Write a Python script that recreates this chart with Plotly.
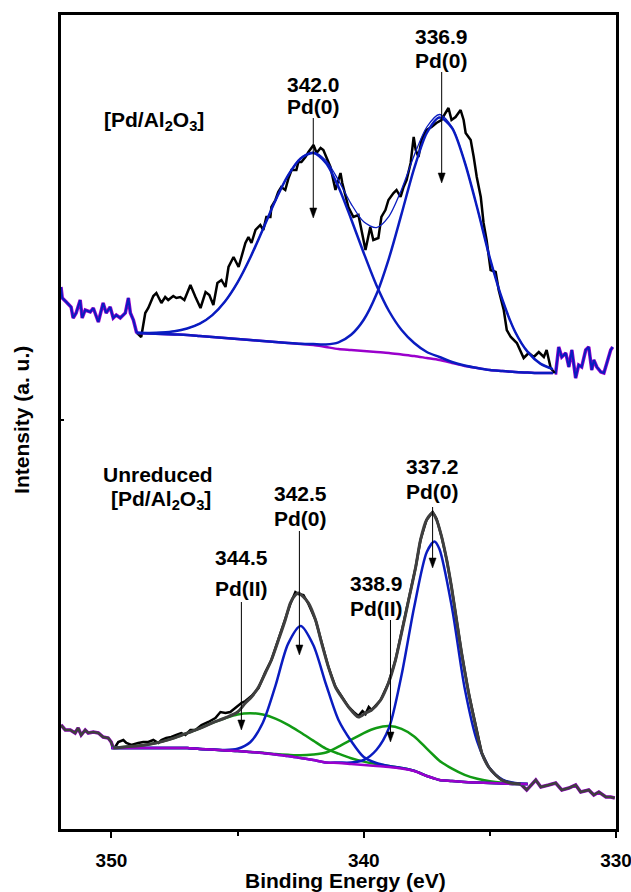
import plotly.graph_objects as go

# ---------------- data (binding energy in eV, intensity in a.u.) ----------------
# upper spectrum [Pd/Al2O3]
top_left_E = [352.0, 351.95, 351.79, 351.60, 351.52, 351.40, 351.24, 351.16, 351.04, 350.84,
              350.72, 350.52, 350.33, 350.21, 350.05, 349.93, 349.81, 349.65, 349.45, 349.33,
              349.25, 349.13, 349.01, 348.98]
top_left_I = [54.3, 53.2, 52.8, 52.3, 51.2, 51.7, 53.0, 51.2, 52.0, 51.8,
              52.2, 50.8, 52.7, 51.7, 52.3, 51.2, 51.5, 51.2, 51.7, 53.2,
              51.7, 51.0, 49.8, 49.7]

top_raw_E = [348.98, 348.82, 348.66, 348.54, 348.34, 348.22, 348.02, 347.87, 347.75, 347.55,
             347.43, 347.27, 347.11, 346.87, 346.67, 346.47, 346.27, 346.12, 345.96, 345.80,
             345.64, 345.48, 345.36, 345.16, 344.96, 344.85, 344.69, 344.57, 344.45, 344.29,
             344.10, 343.98, 343.86, 343.70, 343.66, 343.50, 343.39, 343.27, 343.11, 342.98,
             342.86, 342.67, 342.59, 342.47, 342.31, 342.19, 341.99, 341.87, 341.71, 341.60,
             341.48, 341.32, 341.12, 340.92, 340.85, 340.61, 340.41, 340.21, 340.09, 339.93,
             339.74, 339.62, 339.42, 339.30, 339.14, 339.02, 338.82, 338.70, 338.54, 338.42,
             338.30, 338.14, 338.02, 337.94, 337.83, 337.71, 337.51, 337.31, 337.12, 336.92,
             336.76, 336.64, 336.52, 336.36, 336.16, 336.04, 335.96, 335.76, 335.64, 335.52,
             335.36, 335.25, 335.13, 334.97, 334.77, 334.65, 334.45, 334.33, 334.17, 334.05,
             333.93, 333.66, 333.46, 333.26, 333.06, 332.86, 332.75, 332.59, 332.43]
top_raw_I = [49.7, 49.3, 51.7, 52.2, 53.4, 53.7, 52.7, 53.3, 53.0, 53.4,
             53.2, 53.3, 53.0, 54.5, 53.3, 52.2, 53.8, 53.5, 52.5, 54.7,
             55.0, 54.3, 56.3, 57.3, 56.3, 57.3, 58.7, 59.3, 58.7, 60.0,
             60.5, 60.0, 61.3, 61.3, 62.3, 63.0, 63.8, 64.3, 64.0, 65.2,
             66.0, 66.0, 66.8, 66.8, 67.3, 67.8, 68.5, 67.7, 68.2, 68.0,
             67.3, 66.3, 64.0, 65.7, 64.7, 62.3, 61.3, 61.5, 60.0, 58.0,
             60.3, 59.0, 59.2, 61.3, 62.0, 63.0, 63.7, 64.0, 63.3, 64.3,
             65.0, 66.7, 69.3, 68.0, 67.3, 69.0, 70.0, 70.3, 70.7, 71.0,
             71.7, 72.2, 71.0, 71.3, 72.0, 71.0, 69.7, 69.0, 67.3, 65.3,
             63.3, 60.7, 59.0, 56.0, 55.8, 54.0, 52.0, 50.0, 49.3, 49.0,
             48.7, 47.2, 47.7, 47.3, 47.8, 47.3, 48.0, 46.2, 45.7]

top_right_E = [332.43, 332.39, 332.27, 332.15, 331.99, 331.87, 331.75, 331.60, 331.48, 331.36,
               331.20, 331.08, 330.96, 330.88, 330.76, 330.60, 330.48, 330.37, 330.21, 330.13]
top_right_I = [45.7, 45.7, 48.3, 47.3, 47.7, 46.3, 48.0, 45.2, 46.5, 46.3,
               48.0, 48.3, 46.0, 47.0, 46.3, 45.8, 45.7, 46.7, 48.0, 48.3]

top_fit_E = [349.0, 348.5, 348.0, 347.5, 347.0, 346.5, 346.0, 345.5, 345.0, 344.5,
             344.0, 343.5, 343.0, 342.5, 342.0, 341.5, 341.0, 340.5, 340.0, 339.5,
             339.0, 338.5, 338.0, 337.5, 337.0, 336.5, 336.0, 335.5, 335.0, 334.5,
             334.0, 333.5, 333.0, 332.5]
top_bg_I = [49.7, 49.65, 49.6, 49.55, 49.5, 49.4, 49.3, 49.2, 49.1, 49.0,
            48.9, 48.8, 48.7, 48.6, 48.5, 48.3, 48.1, 48.0, 47.9, 47.8,
            47.7, 47.55, 47.4, 47.2, 47.0, 46.7, 46.4, 46.2, 46.0, 45.9,
            45.8, 45.75, 45.7, 45.7]
top_pd0_342_I = [49.72, 49.71, 49.75, 49.87, 50.15, 50.63, 51.49, 52.85, 54.76, 57.22,
                 60.06, 62.95, 65.46, 67.16, 67.7, 66.7, 64.3, 61.1, 57.7, 54.5,
                 51.9, 50.0, 48.7, 47.8, 47.3, 46.8, 46.45, 46.2, 46.0, 45.9,
                 45.8, 45.75, 45.7, 45.7]
top_pd0_337_I = [49.7, 49.65, 49.6, 49.55, 49.5, 49.4, 49.3, 49.2, 49.1, 49.0,
                 48.9, 48.8, 48.71, 48.63, 48.59, 48.56, 48.77, 49.52, 51.02, 53.54,
                 57.17, 61.61, 66.16, 69.7, 71.25, 70.2, 66.8, 62.2, 57.2, 53.0,
                 49.83, 47.81, 46.64, 46.09]
top_env_I = [49.72, 49.71, 49.75, 49.87, 50.15, 50.63, 51.49, 52.85, 54.76, 57.22,
             60.06, 62.95, 65.47, 67.19, 67.79, 66.96, 64.97, 62.62, 60.82, 60.24,
             61.37, 64.06, 67.46, 70.3, 71.55, 70.3, 66.85, 62.2, 57.2, 53.0,
             49.83, 47.81, 46.64, 46.09]

# lower spectrum: unreduced [Pd/Al2O3]
bot_left_E = [352.0, 351.83, 351.63, 351.44, 351.32, 351.20, 351.04, 350.92, 350.72, 350.52,
              350.33, 350.13, 350.01, 349.93]
bot_left_I = [10.5, 10.0, 10.0, 9.7, 10.2, 9.5, 10.0, 9.7, 9.8, 9.7,
              9.3, 9.2, 8.8, 8.2]

bot_raw_E = [349.93, 349.85, 349.73, 349.53, 349.41, 349.21, 348.94, 348.74, 348.54, 348.34,
             348.14, 348.02, 347.83, 347.63, 347.43, 347.23, 347.07, 346.87, 346.67, 346.43,
             346.16, 345.88, 345.68, 345.48, 345.29, 345.09, 344.85, 344.69, 344.45, 344.17,
             343.90, 343.66, 343.38, 343.11, 342.91, 342.71, 342.59, 342.39, 342.19, 341.91,
             341.67, 341.40, 341.12, 340.85, 340.60, 340.40, 340.21, 340.05, 339.93, 339.80,
             339.69, 339.33, 339.02, 338.74, 338.50, 338.22, 337.94, 337.75, 337.51, 337.27,
             337.11, 336.91, 336.71, 336.52, 336.32, 336.12, 335.84, 335.56, 335.32, 335.05,
             334.77, 334.53, 334.18, 333.78]
bot_raw_I = [8.2, 8.3, 8.8, 9.0, 8.7, 8.5, 8.7, 8.8, 8.8, 9.0,
             8.7, 9.0, 9.2, 9.3, 9.5, 9.7, 9.5, 10.0, 10.0, 10.5,
             10.8, 11.2, 11.8, 11.7, 11.8, 12.2, 12.7, 12.9, 13.4, 14.2,
             15.8, 17.0, 19.1, 21.0, 22.6, 23.8, 23.6, 23.5, 22.6, 21.0,
             18.7, 16.3, 14.3, 13.2, 12.3, 11.8, 11.4, 11.9, 11.6, 12.3,
             12.0, 13.0, 14.7, 17.0, 19.7, 23.0, 26.3, 29.0, 31.0, 31.8,
             31.1, 29.3, 27.0, 24.3, 21.0, 17.7, 13.7, 10.3, 7.7, 6.3,
             5.5, 5.0, 4.7, 4.6]

bot_right_E = [333.78, 333.74, 333.54, 333.18, 332.98, 332.67, 332.39, 332.15, 331.87, 331.60,
               331.40, 331.08, 330.88, 330.68, 330.40, 330.21, 330.05]
bot_right_I = [4.6, 4.5, 4.0, 5.0, 4.3, 4.5, 4.7, 4.0, 4.2, 4.5,
               3.8, 4.0, 3.5, 3.8, 3.3, 3.3, 3.2]

bot_env_E = [349.93, 349.5, 349.0, 348.5, 348.0, 347.5, 347.0, 346.5, 346.0, 345.5,
             345.0, 344.69, 344.45, 344.17, 343.90, 343.66, 343.38, 343.11, 342.91, 342.71,
             342.59, 342.39, 342.19, 341.91, 341.67, 341.40, 341.12, 340.85, 340.60, 340.21,
             339.93, 339.69, 339.33, 339.02, 338.74, 338.50, 338.22, 337.94, 337.75, 337.51,
             337.27, 337.11, 336.91, 336.71, 336.52, 336.32, 336.12, 335.84, 335.56, 335.32,
             335.05, 334.77, 334.53, 334.18, 333.78]
bot_env_I = [8.2, 8.31, 8.41, 8.58, 8.84, 9.21, 9.69, 10.16, 10.72, 11.2,
             11.8, 12.7, 13.3, 14.3, 15.7, 17.0, 19.0, 21.0, 22.7, 23.5,
             23.7, 23.3, 22.7, 21.0, 18.7, 16.3, 14.3, 13.2, 12.3, 11.3,
             11.7, 12.0, 13.0, 14.7, 17.0, 19.7, 23.0, 26.3, 29.0, 31.0,
             31.7, 31.0, 29.3, 27.0, 24.3, 21.0, 17.7, 13.7, 10.3, 7.7,
             6.3, 5.5, 5.0, 4.7, 4.6]

bot_fit_E = [350.0, 349.5, 349.0, 348.5, 348.0, 347.5, 347.0, 346.5, 346.0, 345.5,
             345.0, 344.5, 344.0, 343.5, 343.0, 342.5, 342.0, 341.5, 341.0, 340.5,
             340.0, 339.5, 339.0, 338.5, 338.0, 337.5, 337.2, 337.0, 336.5, 336.0,
             335.5, 335.0, 334.5, 334.0, 333.5]
bot_bg_I = [8.2, 8.2, 8.2, 8.2, 8.2, 8.2, 8.2, 8.1, 8.05, 7.95,
            7.9, 7.8, 7.7, 7.55, 7.4, 7.2, 7.0, 6.75, 6.7, 6.6,
            6.5, 6.4, 6.3, 6.15, 5.9, 5.4, 5.15, 5.0, 4.9, 4.8,
            4.75, 4.7, 4.65, 4.6, 4.6]
bot_pd0_342_I = [8.2, 8.2, 8.2, 8.2, 8.2, 8.2, 8.2, 8.1, 8.05, 7.99,
                 8.12, 8.77, 10.73, 14.41, 18.61, 20.4, 18.5, 14.6, 11.0, 8.9,
                 7.3, 6.7, 6.4, 6.2, 5.92, 5.4, 5.15, 5.0, 4.9, 4.8,
                 4.75, 4.7, 4.65, 4.6, 4.6]
bot_pd0_337_I = [8.2, 8.2, 8.2, 8.2, 8.2, 8.2, 8.2, 8.1, 8.05, 7.95,
                 7.9, 7.8, 7.7, 7.55, 7.4, 7.2, 7.0, 6.75, 6.75, 6.75,
                 7.0, 8.0, 10.2, 15.5, 22.3, 27.8, 28.85, 28.1, 22.2, 14.2,
                 8.85, 6.15, 5.05, 4.7, 4.6]
bot_pd2_344_I = [8.25, 8.31, 8.41, 8.58, 8.84, 9.21, 9.69, 10.16, 10.72, 11.18,
                 11.56, 11.68, 11.55, 11.14, 10.52, 9.75, 8.94, 8.14, 7.63, 7.18,
                 6.84, 6.59, 6.4, 6.2, 5.92, 5.4, 5.15, 5.0, 4.9, 4.8,
                 4.75, 4.7, 4.65, 4.6, 4.6]
bot_pd2_339_I = [8.2, 8.2, 8.2, 8.2, 8.2, 8.2, 8.2, 8.1, 8.05, 7.95,
                 7.9, 7.8, 7.72, 7.6, 7.52, 7.47, 7.55, 7.75, 8.34, 9.01,
                 9.69, 10.2, 10.39, 10.11, 9.36, 8.13, 7.4, 6.93, 6.13, 5.51,
                 5.12, 4.87, 4.72, 4.63, 4.6]

x_ticks = [350, 340, 330]

# ---------------- styles ----------------
BLACK = "#000000"
BLUE = "#0a1cc0"
PURPLE = "#9a00cc"
GREEN = "#119a14"
GREY = "#3f3f3f"
FONT = "Liberation Sans"

fig = go.Figure()


def line(x, y, color, width, smooth=False):
    ln = dict(color=color, width=width)
    if smooth:
        ln.update(shape="spline", smoothing=0.8)
    fig.add_trace(go.Scatter(x=x, y=y, mode="lines", line=ln,
                             showlegend=False, hoverinfo="skip"))


# upper spectrum
line(top_left_E, top_left_I, PURPLE, 3.5)
line(top_left_E, top_left_I, BLUE, 2)
line(top_right_E, top_right_I, PURPLE, 3.5)
line(top_right_E, top_right_I, BLUE, 2)
line(top_raw_E, top_raw_I, BLACK, 2.5)
line(top_fit_E, top_bg_I, PURPLE, 2.5, True)
line(top_fit_E, top_pd0_342_I, BLUE, 2.5, True)
line(top_fit_E, top_pd0_337_I, BLUE, 2.5, True)
line(top_fit_E, top_env_I, BLUE, 1.3, True)

# lower spectrum
line(bot_left_E, bot_left_I, PURPLE, 3.5)
line(bot_left_E, bot_left_I, GREY, 2.5)
line(bot_right_E, bot_right_I, PURPLE, 3.5)
line(bot_right_E, bot_right_I, GREY, 2.5)
line(bot_raw_E, bot_raw_I, BLACK, 2.5)
line(bot_fit_E, bot_pd2_344_I, GREEN, 2.5, True)
line(bot_fit_E, bot_pd2_339_I, GREEN, 2.5, True)
line(bot_fit_E, bot_pd0_342_I, BLUE, 2.5, True)
line(bot_fit_E, bot_pd0_337_I, BLUE, 2.5, True)
line(bot_fit_E, bot_bg_I, PURPLE, 2.5, True)
line(bot_env_E, bot_env_I, GREY, 3, True)

annotations = []
shapes = []


def label(x, y, text, size=21):
    annotations.append(dict(x=x, y=y, xref="x", yref="y", text="<b>%s</b>" % text,
                             showarrow=False, xanchor="center", yanchor="middle",
                             font=dict(family=FONT, size=size, color="black")))


def arrow(x, y_tail, y_head):
    # shaft
    shapes.append(dict(type="line", xref="x", yref="y", x0=x, x1=x, y0=y_tail, y1=y_head + 0.8,
                       line=dict(color="black", width=1)))
    # filled arrow head (about 7 px wide, 10 px long)
    shapes.append(dict(type="path", xref="x", yref="y",
                       path="M %.3f,%.2f L %.3f,%.2f L %.3f,%.2f Z" % (
                           x - 0.14, y_head + 1.0, x + 0.14, y_head + 1.0, x, y_head),
                       fillcolor="black", line=dict(color="black", width=0.5)))


label(336.91, 79.4, "336.9")
label(336.91, 77.0, "Pd(0)")
arrow(336.91, 75.8, 64.7)
label(342.0, 74.6, "342.0")
label(342.0, 72.4, "Pd(0)")
arrow(342.0, 71.2, 61.2)
label(348.3, 70.9, "[Pd/Al<sub>2</sub>O<sub>3</sub>]", 21)

label(348.14, 35.6, "Unreduced", 21)
label(348.02, 33.0, "[Pd/Al<sub>2</sub>O<sub>3</sub>]", 21)
label(337.27, 36.4, "337.2")
label(337.27, 33.9, "Pd(0)")
arrow(337.27, 32.3, 26.2)
label(342.51, 33.7, "342.5")
label(342.51, 31.2, "Pd(0)")
arrow(342.55, 29.9, 17.5)
label(344.85, 27.3, "344.5")
label(344.85, 24.2, "Pd(II)")
arrow(344.85, 22.8, 10.0)
label(339.49, 24.7, "338.9")
label(339.49, 22.2, "Pd(II)")
arrow(338.94, 21.0, 8.8)

# axis titles
annotations.append(dict(x=0.512, y=-0.0627, xref="paper", yref="paper",
                        text="<b>Binding Energy (eV)</b>", showarrow=False,
                        xanchor="center", yanchor="middle",
                        font=dict(family=FONT, size=21, color="black")))
annotations.append(dict(x=-0.0703, y=0.5025, xref="paper", yref="paper",
                        text="<b>Intensity (a. u.)</b>", showarrow=False, textangle=-90,
                        xanchor="center", yanchor="middle",
                        font=dict(family=FONT, size=21, color="black")))

fig.update_layout(
    width=631, height=892,
    margin=dict(l=61, r=15, t=15, b=63),
    paper_bgcolor="white", plot_bgcolor="white",
    annotations=annotations,
    shapes=shapes,
    xaxis=dict(range=[352, 330], tickvals=x_ticks, ticktext=["<b>%d</b>" % v for v in x_ticks],
               ticks="outside", ticklen=6, tickwidth=2, tickcolor="black",
               ticklabelstandoff=6, ticklabeloverflow="allow", automargin=False,
               minor=dict(ticks="outside", ticklen=4, tickwidth=2, tickcolor="black", dtick=5, tick0=330),
               showline=True, linewidth=2.5, linecolor="black", mirror=True,
               showgrid=False, zeroline=False,
               tickfont=dict(family=FONT, size=19, color="black")),
    yaxis=dict(range=[0.1, 81.5], tickvals=[41.0], showticklabels=False, automargin=False,
               ticks="inside", ticklen=3, tickwidth=2, tickcolor="black",
               showline=True, linewidth=2.5, linecolor="black", mirror=True,
               showgrid=False, zeroline=False),
)

fig.write_html("out.html", config={"displayModeBar": False},
               post_script="document.body.style.margin='0px';document.body.style.overflow='hidden';")
